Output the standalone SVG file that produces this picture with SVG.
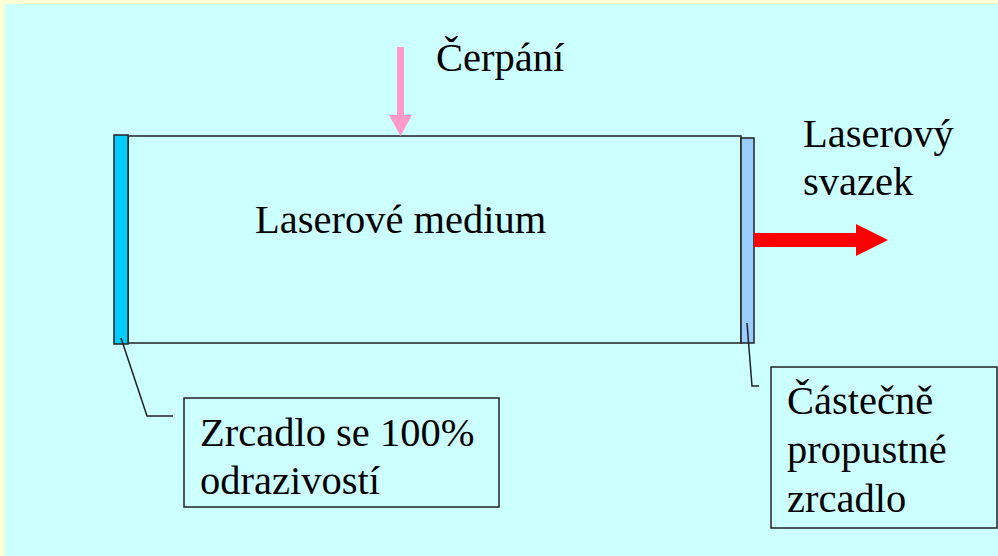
<svg xmlns="http://www.w3.org/2000/svg" width="998" height="556" viewBox="0 0 998 556">
  <style>
    .t { font-family: "Liberation Serif", "Times New Roman", serif; font-size: 40.5px; fill: #000; }
    .box { fill: none; stroke: #222; stroke-width: 1.5; }
    .lead { fill: none; stroke: #222; stroke-width: 1.5; }
  </style>
  <rect x="0" y="0" width="998" height="556" fill="#FFFFD5"/>
  <rect x="5" y="4" width="993" height="552" fill="#CCFFFF"/>

  <g id="medium">
    <rect x="128" y="136" width="613" height="207" class="box"/>
    <text class="t" x="255" y="233">Laserové medium</text>
  </g>
  <g id="mirror-left">
    <rect x="114" y="135" width="14" height="209" fill="#00CCFF" stroke="#222" stroke-width="1.5"/>
  </g>
  <g id="mirror-right">
    <rect x="741" y="138" width="13" height="205" fill="#99CCFF" stroke="#222" stroke-width="1.5"/>
  </g>

  <g id="pump">
    <polygon points="397,47 404,47 404,115 412,115 400.5,136 389,115 397,115" fill="#FF99CC"/>
    <text class="t" x="436" y="71">Čerpání</text>
  </g>

  <g id="beam">
    <polygon points="754,233 856,233 856,224 888,240 856,256 856,247 754,247" fill="#FF0000"/>
    <text class="t" x="803" y="147">Laserový</text>
    <text class="t" x="803" y="195">svazek</text>
  </g>

  <g id="callout-left">
    <rect x="184" y="398" width="315" height="109" class="box"/>
    <text class="t" x="200" y="446">Zrcadlo se 100%</text>
    <text class="t" x="200" y="494">odrazivostí</text>
  </g>

  <g id="callout-right">
    <rect x="771" y="367" width="226" height="161" class="box"/>
    <text class="t" x="787" y="414">Částečně</text>
    <text class="t" x="787" y="463">propustné</text>
    <text class="t" x="787" y="512">zrcadlo</text>
  </g>

  <g id="connectors">
    <polyline class="lead" points="121,338 147,416 173,416"/>
    <polyline class="lead" points="747,323 752,386 759,386"/>
  </g>
</svg>
